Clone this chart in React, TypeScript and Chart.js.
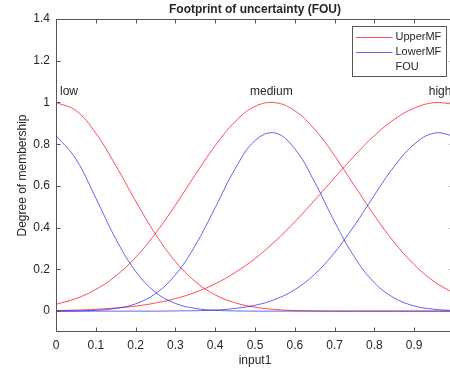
import React, { useEffect, useRef } from 'react';
import { Chart, registerables } from 'chart.js';

Chart.register(...registerables);

// ---- data ----
const xValues = [0, 0.05, 0.1, 0.15, 0.2, 0.25, 0.3, 0.35, 0.4, 0.45, 0.5, 0.55, 0.6, 0.65, 0.7, 0.75, 0.8, 0.85, 0.9, 0.95, 1];

const upperLow = [1, 0.961, 0.853, 0.698, 0.528, 0.369, 0.238, 0.142, 0.078, 0.04, 0.019, 0.008, 0.003, 0.001, 0, 0, 0, 0, 0, 0, 0];
const upperMedium = [0.033, 0.06, 0.104, 0.168, 0.258, 0.373, 0.508, 0.654, 0.793, 0.908, 0.981, 0.999, 0.96, 0.871, 0.745, 0.601, 0.458, 0.329, 0.223, 0.142, 0.086];
const upperHigh = [0.003, 0.005, 0.009, 0.015, 0.024, 0.039, 0.06, 0.09, 0.131, 0.185, 0.252, 0.334, 0.428, 0.532, 0.639, 0.745, 0.841, 0.919, 0.973, 0.999, 0.992];

const lowerLow = [0.842, 0.729, 0.542, 0.347, 0.191, 0.09, 0.037, 0.013, 0.004, 0.001, 0, 0, 0, 0, 0, 0, 0, 0, 0, 0, 0];
const lowerMedium = [0, 0.001, 0.004, 0.013, 0.035, 0.084, 0.174, 0.315, 0.496, 0.682, 0.817, 0.854, 0.778, 0.618, 0.428, 0.259, 0.136, 0.063, 0.025, 0.009, 0.003];
const lowerHigh = [0, 0, 0, 0, 0, 0, 0.001, 0.002, 0.005, 0.013, 0.028, 0.056, 0.103, 0.177, 0.281, 0.411, 0.556, 0.694, 0.8, 0.853, 0.84];

const xTickValues = [0, 0.1, 0.2, 0.3, 0.4, 0.5, 0.6, 0.7, 0.8, 0.9, 1];
const yTickValues = [0, 0.2, 0.4, 0.6, 0.8, 1, 1.2, 1.4];

const mfNames = ['low', 'medium', 'high'];
const mfCenters = [0, 0.541, 0.965];
const mfLabelY = 1.05;

const legendLabels = ['UpperMF', 'LowerMF', 'FOU'];
const titleText = 'Footprint of uncertainty (FOU)';
const xTitle = 'input1';
const yTitle = 'Degree of membership';

// ---- styles ----
const FONT = '"Liberation Sans", Arial, Helvetica, sans-serif';
const TXT = '#262626';
const AXIS = '#555555';
const RED = 'rgba(255,0,20,0.7)';
const BLUE = 'rgba(20,20,230,0.65)';

const toPoints = (arr: number[]) => xValues.map((x, i) => ({ x, y: arr[i] }));
const fmt = (v: number) => String(Math.round(v * 10) / 10);

const decor = {
  id: 'decor',
  afterDraw(chart: any) {
    const { ctx, chartArea: a, scales } = chart;
    const xs = scales.x;
    const ys = scales.y;
    ctx.save();

    // axes box
    const L = Math.round(a.left) + 0.5;
    const R = Math.round(a.right) - 0.5;
    const T = Math.round(a.top) + 0.5;
    const B = Math.round(a.bottom) - 0.5;
    ctx.strokeStyle = AXIS;
    ctx.lineWidth = 1;
    ctx.beginPath();
    ctx.rect(L, T, R - L, B - T);
    ctx.stroke();

    // inside ticks
    const tl = 4;
    ctx.beginPath();
    xTickValues.forEach((v) => {
      const px = Math.round(xs.getPixelForValue(v)) + 0.5;
      ctx.moveTo(px, B);
      ctx.lineTo(px, B - tl);
      ctx.moveTo(px, T);
      ctx.lineTo(px, T + tl);
    });
    yTickValues.forEach((v) => {
      const py = Math.round(ys.getPixelForValue(v)) + 0.5;
      ctx.moveTo(L, py);
      ctx.lineTo(L + tl, py);
      ctx.moveTo(R, py);
      ctx.lineTo(R - tl, py);
    });
    ctx.stroke();

    const cx = (a.left + a.right) / 2;
    const cy = (a.top + a.bottom) / 2;
    ctx.fillStyle = TXT;

    // title
    ctx.font = `bold 12px ${FONT}`;
    ctx.textAlign = 'center';
    ctx.textBaseline = 'middle';
    ctx.fillText(titleText, cx, 9.5);

    // axis titles
    ctx.font = `12px ${FONT}`;
    ctx.fillText(xTitle, cx, 361);
    ctx.save();
    ctx.translate(22.5, cy);
    ctx.rotate(-Math.PI / 2);
    ctx.fillText(yTitle, 0, 0);
    ctx.restore();

    // MF labels
    const ly = ys.getPixelForValue(mfLabelY);
    mfNames.forEach((name, i) => {
      const px = xs.getPixelForValue(mfCenters[i]);
      if (i === 0) {
        ctx.textAlign = 'left';
        ctx.fillText(name, px + 4, ly);
      } else {
        ctx.textAlign = 'center';
        ctx.fillText(name, px, ly);
      }
    });

    // legend
    const lgRight = Math.round(a.right) - 7.5;
    const lgTop = Math.round(a.top) + 7.5;
    const lgW = 94;
    const lgH = 50;
    const lgLeft = lgRight - lgW;
    ctx.fillStyle = '#ffffff';
    ctx.fillRect(lgLeft, lgTop, lgW, lgH);
    ctx.strokeStyle = AXIS;
    ctx.strokeRect(lgLeft, lgTop, lgW, lgH);
    const colors = [RED, BLUE, null];
    ctx.font = `11px ${FONT}`;
    ctx.textAlign = 'left';
    ctx.textBaseline = 'middle';
    legendLabels.forEach((lab, i) => {
      const ry = lgTop + 10.5 + i * 15;
      const c = colors[i];
      if (c) {
        ctx.strokeStyle = c;
        ctx.lineWidth = 1;
        ctx.beginPath();
        ctx.moveTo(lgLeft + 3.5, Math.round(ry) + 0.5);
        ctx.lineTo(lgLeft + 40, Math.round(ry) + 0.5);
        ctx.stroke();
      }
      ctx.fillStyle = TXT;
      ctx.fillText(lab, lgLeft + 43, ry);
    });

    ctx.restore();
  },
};

export default function App() {
  const ref = useRef<HTMLCanvasElement>(null);

  useEffect(() => {
    if (!ref.current) return;
    const mk = (label: string, arr: number[], color: string) => ({
      label,
      data: toPoints(arr),
      borderColor: color,
      backgroundColor: color,
      borderWidth: 1,
      pointRadius: 0,
      tension: 0.4,
      fill: false,
    });
    const chart = new Chart(ref.current, {
      type: 'line',
      data: {
        datasets: [
          mk('LowerMF low', lowerLow, BLUE),
          mk('LowerMF medium', lowerMedium, BLUE),
          mk('LowerMF high', lowerHigh, BLUE),
          mk('UpperMF low', upperLow, RED),
          mk('UpperMF medium', upperMedium, RED),
          mk('UpperMF high', upperHigh, RED),
        ],
      },
      options: {
        animation: false,
        responsive: false,
        maintainAspectRatio: false,
        layout: { padding: { top: 19, right: 16, left: 0, bottom: 0 } },
        plugins: {
          legend: { display: false },
          title: { display: false },
          tooltip: { enabled: false },
        },
        events: [],
        scales: {
          x: {
            type: 'linear',
            min: 0,
            max: 1,
            afterBuildTicks: (s: any) => {
              s.ticks = xTickValues.map((v) => ({ value: v }));
            },
            afterFit: (s: any) => {
              s.height = 38;
            },
            grid: { display: false, drawTicks: false },
            border: { display: false },
            ticks: {
              padding: 6,
              color: TXT,
              font: { family: FONT, size: 12 },
              maxRotation: 0,
              autoSkip: false,
              callback: (v: any) => fmt(Number(v)),
            },
          },
          y: {
            type: 'linear',
            min: -0.1,
            max: 1.4,
            afterBuildTicks: (s: any) => {
              s.ticks = yTickValues.map((v) => ({ value: v }));
            },
            afterFit: (s: any) => {
              s.width = 56;
            },
            grid: { display: false, drawTicks: false },
            border: { display: false },
            ticks: {
              padding: 6,
              color: TXT,
              font: { family: FONT, size: 12 },
              autoSkip: false,
              callback: (v: any) => fmt(Number(v)),
            },
          },
        },
      },
      plugins: [decor],
    });
    return () => chart.destroy();
  }, []);

  return (
    <div
      style={{
        position: 'absolute',
        left: 0,
        top: 0,
        width: 450,
        height: 370,
        overflow: 'hidden',
        background: '#ffffff',
      }}
    >
      <canvas ref={ref} width={470} height={370} style={{ display: 'block', width: 470, height: 370 }} />
    </div>
  );
}
